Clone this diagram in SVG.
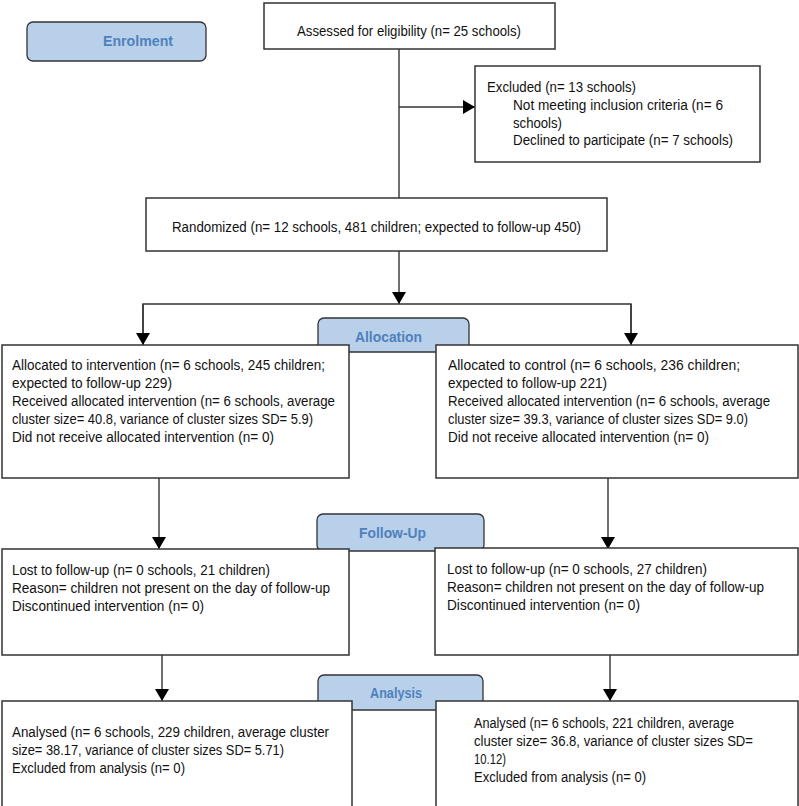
<svg xmlns="http://www.w3.org/2000/svg" width="799" height="806" viewBox="0 0 799 806">
<style>
.box{fill:#fff;stroke:#333;stroke-width:1.5}
.lab{fill:#b8d0ea;stroke:#333;stroke-width:1.3}
.t{font-family:"Liberation Sans",Arial,sans-serif;font-size:14px;fill:#111}
.lt{font-family:"Liberation Sans",Arial,sans-serif;font-size:14.5px;font-weight:bold;fill:#4f81bd}
.c{fill:none;stroke:#333;stroke-width:1.4}
</style>
<defs>
<marker id="ah" markerWidth="12" markerHeight="14" refX="12" refY="7" orient="auto" markerUnits="userSpaceOnUse">
<path d="M0,0 L12,7 L0,14 Z" fill="#000"/>
</marker>
</defs>
<rect width="799" height="806" fill="#fff"/>

<g id="enrolment">
<rect class="lab" x="27" y="22" width="179" height="39" rx="6"/>
<text class="lt" x="103" y="46" textLength="70" lengthAdjust="spacingAndGlyphs">Enrolment</text>
</g>

<g id="allocation-label">
<rect class="lab" x="318" y="318" width="151" height="34" rx="6"/>
<text class="lt" x="355" y="342" textLength="67" lengthAdjust="spacingAndGlyphs">Allocation</text>
</g>

<g id="followup-label">
<rect class="lab" x="317" y="514" width="167" height="37" rx="6"/>
<text class="lt" x="359" y="538" textLength="67" lengthAdjust="spacingAndGlyphs">Follow-Up</text>
</g>

<g id="analysis-label">
<rect class="lab" x="318" y="675" width="165" height="35" rx="6"/>
<text class="lt" x="370" y="698" textLength="52" lengthAdjust="spacingAndGlyphs">Analysis</text>
</g>

<g id="connectors">
<path class="c" d="M399,49 V198"/>
<path class="c" d="M399,107 H475" marker-end="url(#ah)"/>
<path class="c" d="M399,251 V304" marker-end="url(#ah)"/>
<path class="c" d="M143,345 V304 H631 V345"/>
<path class="c" d="M143,304 V345" marker-end="url(#ah)"/>
<path class="c" d="M631,304 V345" marker-end="url(#ah)"/>
<path class="c" d="M159,478 V549" marker-end="url(#ah)"/>
<path class="c" d="M608,478 V549" marker-end="url(#ah)"/>
<path class="c" d="M162,655 V701" marker-end="url(#ah)"/>
<path class="c" d="M610,655 V701" marker-end="url(#ah)"/>
</g>

<g id="assessed">
<rect class="box" x="264" y="3" width="291" height="46"/>
<text class="t" x="297" y="36" textLength="224" lengthAdjust="spacingAndGlyphs">Assessed for eligibility (n= 25 schools)</text>
</g>

<g id="excluded">
<rect class="box" x="475" y="66" width="285" height="96"/>
<text class="t" x="487" y="92" textLength="149" lengthAdjust="spacingAndGlyphs">Excluded  (n= 13 schools)</text>
<text class="t" x="513" y="110" textLength="210" lengthAdjust="spacingAndGlyphs">Not meeting inclusion criteria (n= 6</text>
<text class="t" x="513" y="128" textLength="49" lengthAdjust="spacingAndGlyphs">schools)</text>
<text class="t" x="513" y="145" textLength="220" lengthAdjust="spacingAndGlyphs">Declined to participate (n= 7 schools)</text>
</g>

<g id="randomized">
<rect class="box" x="146" y="198" width="461" height="53"/>
<text class="t" x="172" y="232" textLength="409" lengthAdjust="spacingAndGlyphs">Randomized (n= 12 schools, 481 children; expected to follow-up 450)</text>
</g>

<g id="alloc-intervention">
<rect class="box" x="2" y="345" width="347" height="133"/>
<text class="t" x="12" y="370" textLength="313" lengthAdjust="spacingAndGlyphs">Allocated to intervention (n= 6 schools, 245 children;</text>
<text class="t" x="12" y="388" textLength="160" lengthAdjust="spacingAndGlyphs">expected to follow-up 229)</text>
<text class="t" x="12" y="406" textLength="323" lengthAdjust="spacingAndGlyphs">Received allocated intervention (n= 6 schools, average</text>
<text class="t" x="12" y="424" textLength="301" lengthAdjust="spacingAndGlyphs">cluster size= 40.8, variance of cluster sizes SD= 5.9)</text>
<text class="t" x="12" y="442" textLength="262" lengthAdjust="spacingAndGlyphs">Did not receive allocated intervention (n= 0)</text>
</g>

<g id="alloc-control">
<rect class="box" x="436" y="345" width="362" height="133"/>
<text class="t" x="448" y="370" textLength="292" lengthAdjust="spacingAndGlyphs">Allocated  to  control  (n= 6 schools, 236 children;</text>
<text class="t" x="448" y="388" textLength="159" lengthAdjust="spacingAndGlyphs">expected to follow-up 221)</text>
<text class="t" x="448" y="406" textLength="322" lengthAdjust="spacingAndGlyphs">Received allocated intervention (n= 6 schools, average</text>
<text class="t" x="448" y="424" textLength="300" lengthAdjust="spacingAndGlyphs">cluster size= 39.3, variance of cluster sizes SD= 9.0)</text>
<text class="t" x="448" y="442" textLength="261" lengthAdjust="spacingAndGlyphs">Did not receive allocated intervention (n= 0)</text>
</g>

<g id="followup-intervention">
<rect class="box" x="2" y="549" width="347" height="106"/>
<text class="t" x="12" y="575" textLength="258" lengthAdjust="spacingAndGlyphs">Lost to follow-up (n= 0 schools, 21 children)</text>
<text class="t" x="12" y="593" textLength="318" lengthAdjust="spacingAndGlyphs">Reason= children not present on the day of follow-up</text>
<text class="t" x="12" y="611" textLength="192" lengthAdjust="spacingAndGlyphs">Discontinued intervention (n= 0)</text>
</g>

<g id="followup-control">
<rect class="box" x="435" y="548" width="363" height="107"/>
<text class="t" x="447" y="574" textLength="260" lengthAdjust="spacingAndGlyphs">Lost to follow-up (n= 0 schools, 27 children)</text>
<text class="t" x="447" y="592" textLength="317" lengthAdjust="spacingAndGlyphs">Reason= children not present on the day of follow-up</text>
<text class="t" x="447" y="610" textLength="193" lengthAdjust="spacingAndGlyphs">Discontinued intervention (n= 0)</text>
</g>

<g id="analysis-intervention">
<rect class="box" x="2" y="701" width="350" height="110"/>
<text class="t" x="12" y="737" textLength="317" lengthAdjust="spacingAndGlyphs">Analysed  (n= 6 schools, 229 children, average cluster</text>
<text class="t" x="12" y="755" textLength="272" lengthAdjust="spacingAndGlyphs">size= 38.17, variance of cluster sizes SD= 5.71)</text>
<text class="t" x="12" y="773" textLength="173" lengthAdjust="spacingAndGlyphs">Excluded from analysis (n= 0)</text>
</g>

<g id="analysis-control">
<rect class="box" x="436" y="701" width="362" height="110"/>
<text class="t" x="474" y="728" textLength="260" lengthAdjust="spacingAndGlyphs">Analysed  (n= 6 schools, 221 children, average</text>
<text class="t" x="474" y="746" textLength="279" lengthAdjust="spacingAndGlyphs">cluster size= 36.8, variance of cluster sizes SD=</text>
<text class="t" x="474" y="764" textLength="32" lengthAdjust="spacingAndGlyphs">10.12)</text>
<text class="t" x="474" y="782" textLength="172" lengthAdjust="spacingAndGlyphs">Excluded from analysis (n= 0)</text>
</g>
</svg>
